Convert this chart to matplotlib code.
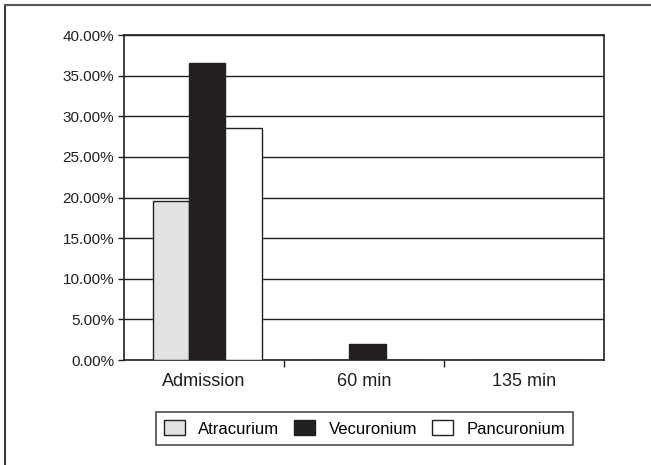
import numpy as np
import matplotlib.pyplot as plt
from matplotlib.lines import Line2D

plt.rcParams['font.family'] = ['Liberation Sans', 'DejaVu Sans']

categories = ["Admission", "60 min", "135 min"]
series = ["Atracurium", "Vecuronium", "Pancuronium"]
atracurium = [19.6, 0.0, 0.0]
vecuronium = [36.6, 2.0, 0.0]
pancuronium = [28.6, 0.0, 0.0]
yticks = [0, 5, 10, 15, 20, 25, 30, 35, 40]

colors = ["#e2e2e2", "#231f20", "#ffffff"]
edge = "#231f20"

fig = plt.figure(figsize=(6.51, 4.65), dpi=100)
ax = fig.add_axes([0.1905, 0.2258, 0.7375, 0.6989])

x = np.arange(len(categories))
w = 0.228
for i, (vals, name) in enumerate(zip([atracurium, vecuronium, pancuronium], series)):
    ax.bar(x + 0.02 + (i - 1) * w, vals, w, color=colors[i], edgecolor=edge,
           linewidth=1.0, label=name, zorder=3)

ax.set_xlim(-0.5, 2.5)
ax.set_ylim(0, 40)
ax.set_yticks(yticks)
ax.set_yticklabels([f"{v:.2f}%" for v in yticks], fontsize=11, color="#231f20")
ax.yaxis.grid(True, color="#231f20", linewidth=1.0, zorder=0)
ax.set_axisbelow(True)

ax.set_xticks(x)
ax.set_xticklabels(categories, fontsize=13, color="#231f20")
ax.tick_params(axis="x", which="major", length=0, pad=9)
ax.set_xticks([0.5, 1.5], minor=True)
ax.tick_params(axis="x", which="minor", length=5, width=1, color="#231f20", direction="out")
ax.tick_params(axis="y", length=4, width=1, color="#231f20", pad=3)

for s in ax.spines.values():
    s.set_color("#231f20")
    s.set_linewidth(1.2)

leg = fig.legend(loc="center", bbox_to_anchor=(0.56, 0.0785), ncol=3,
                 fontsize=12, frameon=True, fancybox=False, edgecolor=edge,
                 handlelength=1.25, handleheight=1.0, handletextpad=0.8,
                 columnspacing=0.9, borderpad=0.5, borderaxespad=0)
leg.get_frame().set_linewidth(1.2)

# outer frame (left and top edges)
fig.add_artist(Line2D([5 / 651, 5 / 651], [0, 1 - 5 / 465], transform=fig.transFigure,
                      color="#3a3a3a", linewidth=1.5))
fig.add_artist(Line2D([5 / 651, 1], [1 - 5 / 465, 1 - 5 / 465], transform=fig.transFigure,
                      color="#555555", linewidth=1.5))

fig.savefig("out.png", dpi=100)
